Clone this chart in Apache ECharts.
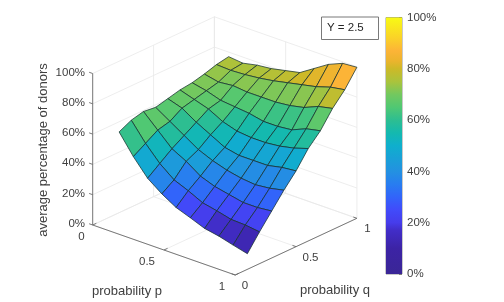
<!DOCTYPE html>
<html><head><meta charset="utf-8">
<style>html,body{margin:0;padding:0;background:#fff}#c{width:504px;height:302px}</style>
<script src="https://cdn.jsdelivr.net/npm/echarts@6/dist/echarts.min.js"></script>
</head><body><div id="c"></div>
<script>
// probability grids
const pValues = [0.1,0.2,0.3,0.4,0.5,0.6,0.7,0.8,0.9,1.0];
const qValues = [0.1,0.2,0.3,0.4,0.5,0.6,0.7,0.8,0.9,1.0];
// donors share per p (rows) and q (columns)
const donors = [
 [.61,.65,.67,.66,.68,.70,.71,.73,.755,.77],
 [.48,.53,.58,.60,.65,.67,.69,.71,.75,.76],
 [.37,.43,.49,.54,.59,.64,.66,.72,.755,.78],
 [.30,.355,.44,.48,.54,.59,.65,.71,.765,.79],
 [.243,.316,.375,.44,.49,.56,.64,.71,.78,.81],
 [.208,.27,.34,.41,.47,.55,.62,.71,.80,.83],
 [.171,.25,.32,.39,.47,.55,.62,.72,.82,.89],
 [.153,.226,.30,.38,.47,.56,.63,.74,.84,.95],
 [.127,.222,.30,.39,.49,.58,.67,.78,.87,.99],
 [.103,.21,.31,.41,.50,.61,.69,.80,.886,.997]
];
const pTicks = [0,0.5,1];
const qTicks = [0,0.5,1];
const zTicks = [0,0.2,0.4,0.6,0.8,1];
const cmapStops = [0,.10,.17,.20,.25,.30,.35,.40,.45,.50,.55,.60,.65,.70,.75,.80,.83,.87,.92,1];
const cmapColors = ['#3a2696','#3c23a5','#412dc8','#463ceb','#414bfa','#3264fa','#287df0','#2391e1','#19a0d7','#0fafcd','#14b9af','#2dbe91','#50c873','#73c85f','#aac33c','#cdb928','#ebb42d','#fcb437','#fad228','#f8fa14'];

const O=[92.7,225], PV=[142.5,50], QV=[121.7,-56.7], ZH=151.5;
const proj=(p,q,z)=>[O[0]+PV[0]*p+QV[0]*q, O[1]+PV[1]*p+QV[1]*q-ZH*z];
function hexRgb(h){return [1,3,5].map(k=>parseInt(h.substr(k,2),16));}
function colorAt(v){
  v=Math.max(0,Math.min(1,v));
  let a=0; while(a<cmapStops.length-2 && cmapStops[a+1]<v) a++;
  const t=(v-cmapStops[a])/(cmapStops[a+1]-cmapStops[a]);
  const A=hexRgb(cmapColors[a]),B=hexRgb(cmapColors[a+1]);
  return 'rgb('+A.map((c,k)=>Math.round(c+(B[k]-c)*t)).join(',')+')';
}
// cell list, painted back to front
const cells=[];
for(let i=0;i<pValues.length-1;i++) for(let j=qValues.length-2;j>=0;j--) cells.push([i,j]);
// frame lines in data space
const GRID='#e8e8e8', AX='#6a6a6a';
const lines=[];
zTicks.forEach(z=>{lines.push([0,0,z,0,1,z,GRID]);lines.push([0,1,z,1,1,z,GRID]);});
pTicks.forEach(p=>{lines.push([p,0,0,p,1,0,GRID]);lines.push([p,1,0,p,1,1,GRID]);});
qTicks.forEach(q=>{lines.push([0,q,0,1,q,0,GRID]);lines.push([0,q,0,0,q,1,GRID]);});
lines.push([0,0,0,1,0,0,AX]);
lines.push([1,0,0,1,1,0,AX]);
lines.push([0,0,0,0,0,1,AX]);
pTicks.forEach(p=>lines.push([p,0,0,p,0.03,0,AX]));
qTicks.forEach(q=>lines.push([1,q,0,0.975,q,0,AX]));
zTicks.forEach(z=>lines.push([0,0,z,-0.025,0,z,AX]));

const TXT='#404040', FS=11.5, FL=13, FF='"Liberation Sans",Arial,sans-serif';
const texts=[
 ['100%',85,72.5,'right',FS],['80%',85,102.5,'right',FS],['60%',85,132.5,'right',FS],['40%',85,163,'right',FS],['20%',85,193.5,'right',FS],['0%',85,224,'right',FS],
 ['0',81.5,237,'center',FS],['0.5',147,262,'center',FS],['1',222,287,'center',FS],
 ['0',245,286,'center',FS],['0.5',310.5,258,'center',FS],['1',367.5,229,'center',FS],
 ['probability p',127,291.5,'center',FL],['probability q',335,290,'center',FL]
];
const chart=echarts.init(document.getElementById('c'),null,{renderer:'canvas'});
chart.setOption({
  animation:false,
  grid:[
    {left:0,top:0,width:504,height:302,show:false},
    {left:386,top:17.5,width:16,height:256.5,show:true,borderColor:'#7a7a7a',borderWidth:0.8,backgroundColor:'transparent'}
  ],
  xAxis:[
    {type:'value',min:0,max:504,show:false,gridIndex:0},
    {type:'category',data:[''],show:false,gridIndex:1}
  ],
  yAxis:[
    {type:'value',min:0,max:302,inverse:true,show:false,gridIndex:0},
    {type:'value',min:0,max:1,interval:0.2,gridIndex:1,position:'right',
     axisLine:{show:false},splitLine:{show:false},
     axisTick:{show:true,inside:true,length:3,lineStyle:{color:'#6a6a6a',width:0.8}},
     axisLabel:{color:TXT,fontSize:FS,fontFamily:FF,margin:5,formatter:v=>Math.round(v*100)+'%'}}
  ],
  series:[
    {type:'custom',xAxisIndex:0,yAxisIndex:0,coordinateSystem:'cartesian2d',clip:false,silent:true,z:1,
     data:lines.map((l,k)=>[k]),
     renderItem:(ps,api)=>{const l=lines[api.value(0)];
       const a=api.coord(proj(l[0],l[1],l[2])), b=api.coord(proj(l[3],l[4],l[5]));
       return {type:'line',shape:{x1:a[0],y1:a[1],x2:b[0],y2:b[1]},style:{stroke:l[6],lineWidth:l[6]===GRID?0.8:0.9}};}},
    {type:'custom',xAxisIndex:0,yAxisIndex:0,coordinateSystem:'cartesian2d',clip:false,silent:true,z:2,
     data:cells,
     renderItem:(ps,api)=>{const i=api.value(0), j=api.value(1);
       const pts=[[i,j],[i+1,j],[i+1,j+1],[i,j+1]].map(c=>api.coord(proj(pValues[c[0]],qValues[c[1]],donors[c[0]][c[1]])));
       return {type:'polygon',shape:{points:pts},style:{fill:colorAt(donors[i][j]),stroke:'#16302f',lineWidth:0.75,opacity:1}};}},
    {type:'custom',xAxisIndex:0,yAxisIndex:0,coordinateSystem:'cartesian2d',clip:false,silent:true,z:3,
     data:texts.map((t,k)=>[k]),
     renderItem:(ps,api)=>{const t=texts[api.value(0)];const c=api.coord([t[1],t[2]]);
       return {type:'text',x:c[0],y:c[1],style:{text:t[0],fill:TXT,font:t[4]+'px '+FF,textAlign:t[3],textVerticalAlign:'middle'}};}},
    {type:'bar',xAxisIndex:1,yAxisIndex:1,data:[1],barWidth:'100%',silent:true,z:1,
     itemStyle:{color:new echarts.graphic.LinearGradient(0,1,0,0,cmapColors.map((c,k)=>({offset:cmapStops[k],color:c})))}}
  ],
  graphic:[
    {type:'text',x:43.5,y:150,rotation:Math.PI/2,style:{text:'average percentage of donors',fill:TXT,font:FL+'px '+FF,textAlign:'center',textVerticalAlign:'middle'}},
    {type:'rect',shape:{x:321.5,y:17,width:57,height:22.5},style:{fill:'#fff',stroke:'#6a6a6a',lineWidth:0.9}},
    {type:'text',x:327,y:28,style:{text:'Y = 2.5',fill:'#262626',font:FS+'px '+FF,textVerticalAlign:'middle'}}
  ]
});
</script></body></html>
